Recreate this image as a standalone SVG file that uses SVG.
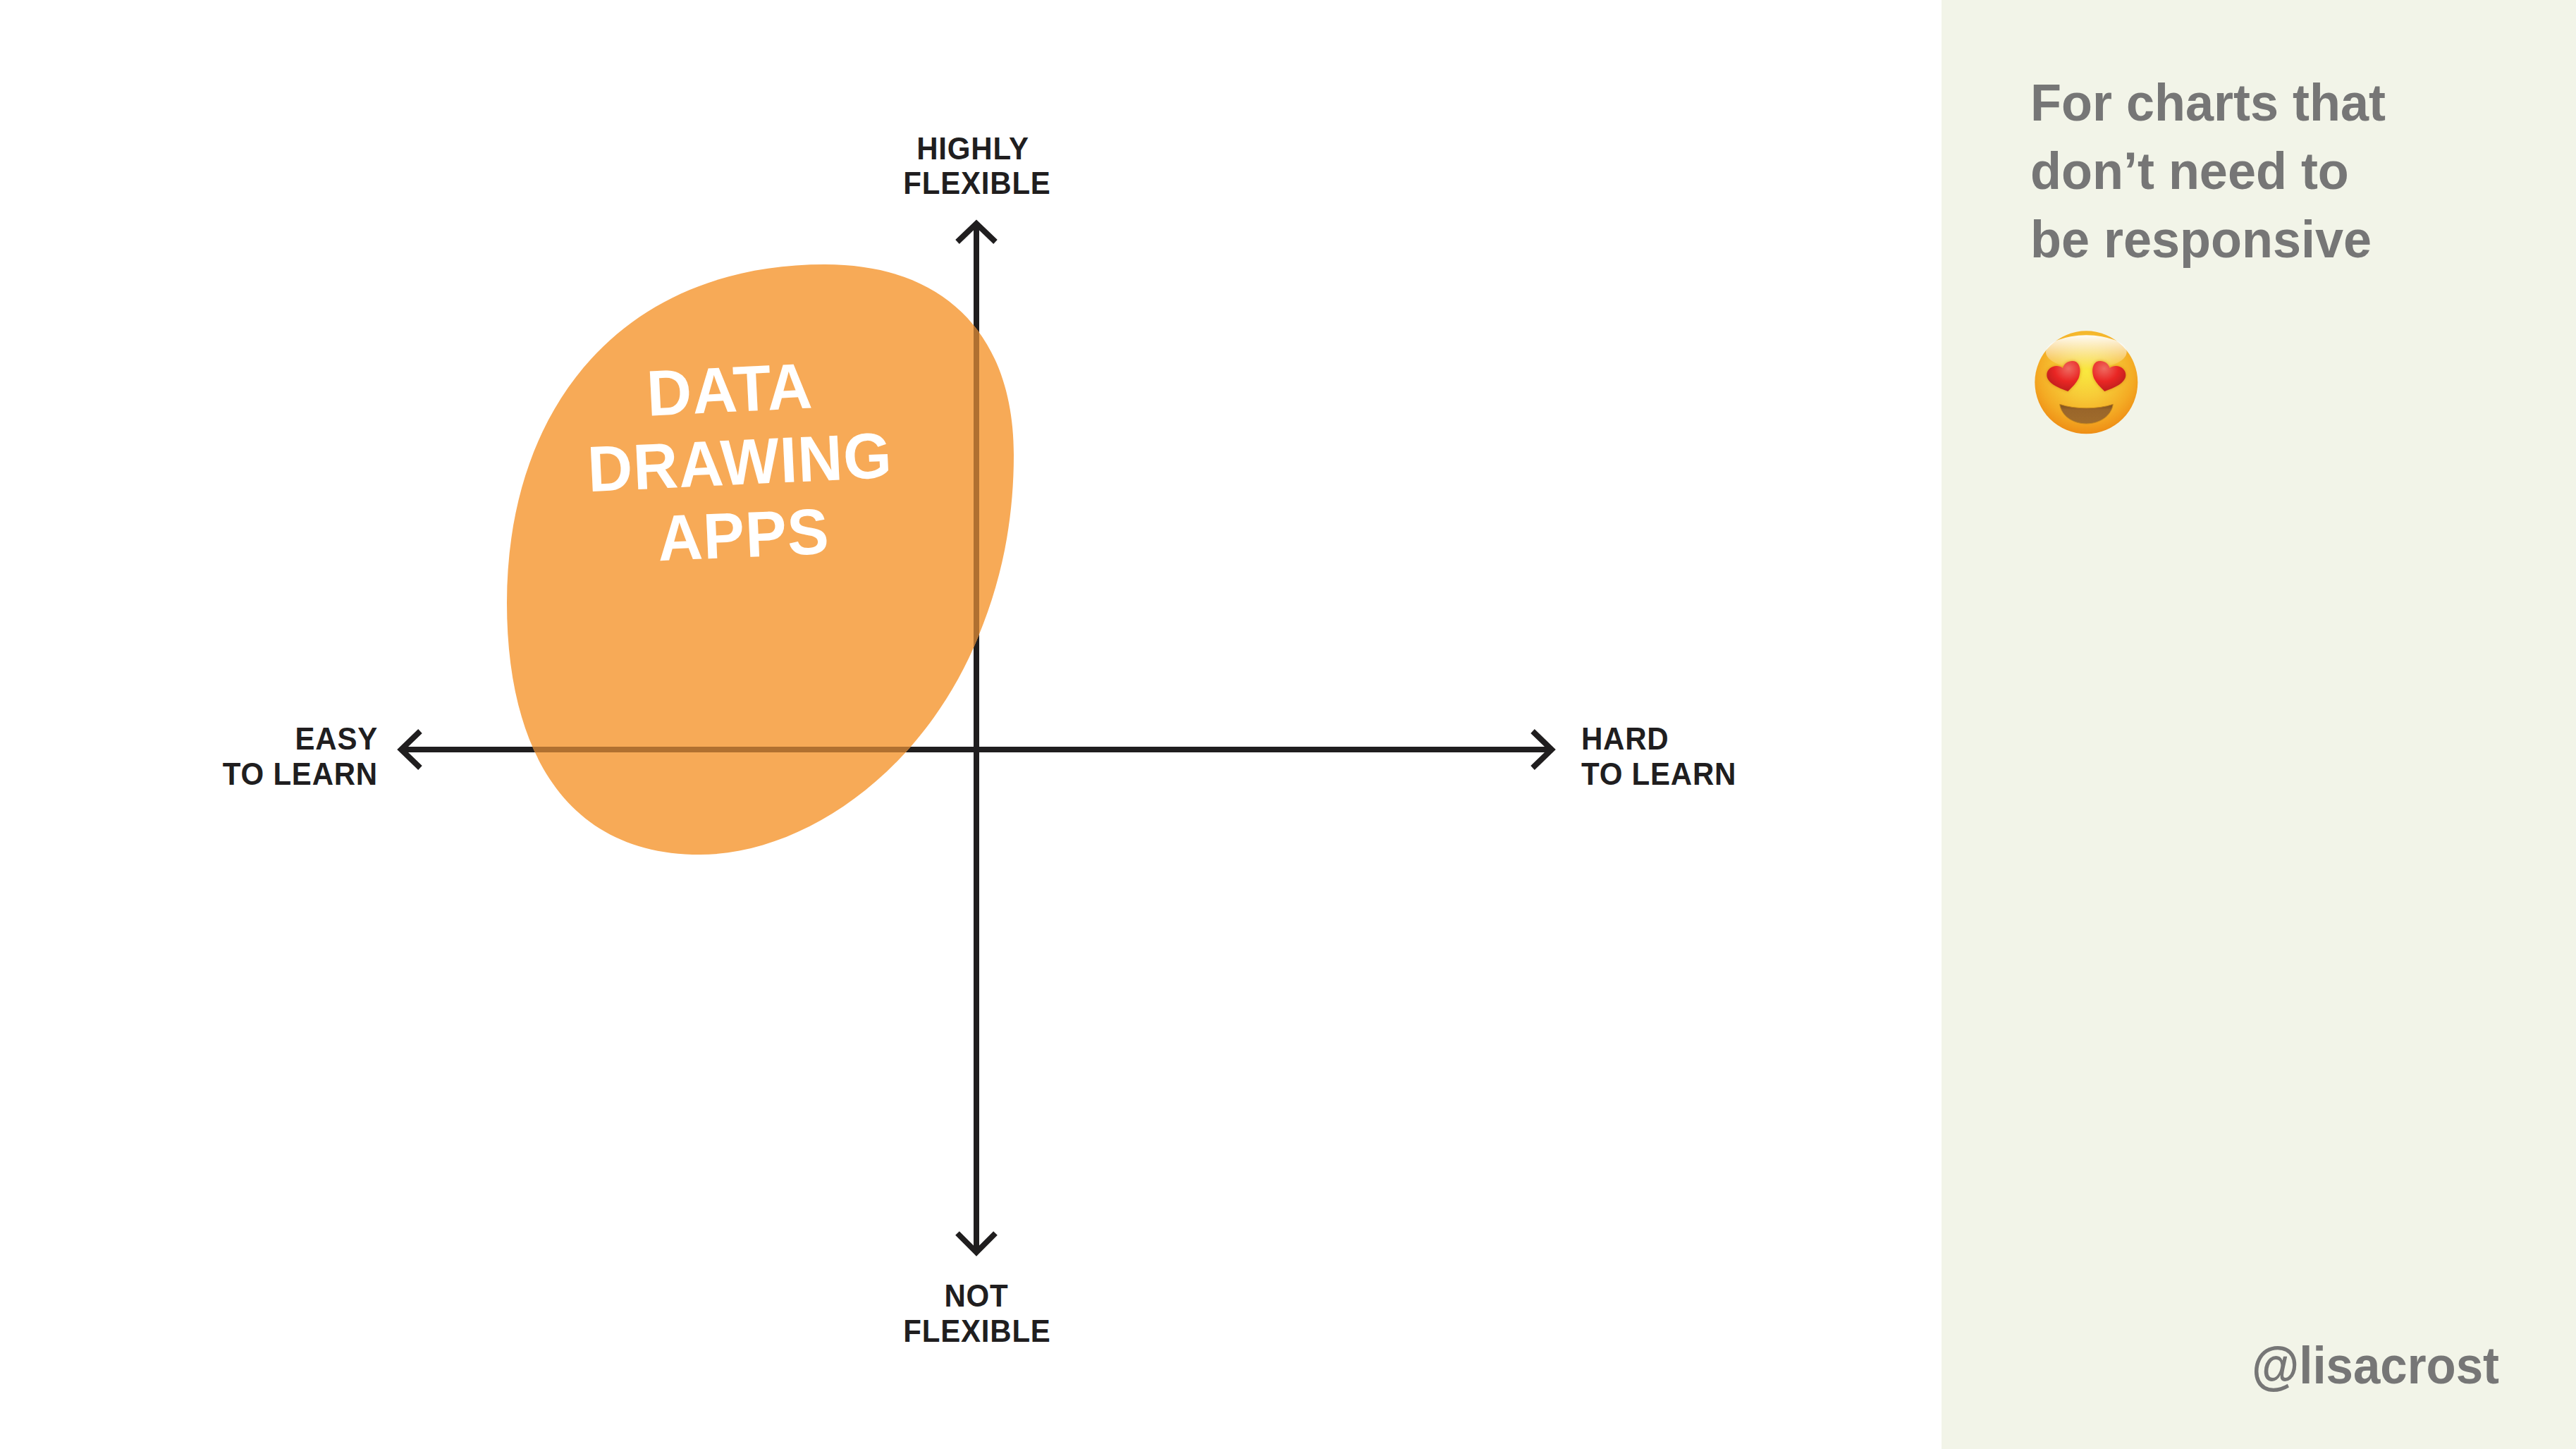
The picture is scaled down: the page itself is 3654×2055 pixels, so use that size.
<svg xmlns="http://www.w3.org/2000/svg" width="3654" height="2055" viewBox="0 0 3654 2055">
<style>
text{font-family:"Liberation Sans",Arial,sans-serif;font-weight:700}
.lab{font-size:42px;fill:#201e1f;letter-spacing:.8px}
.mid{text-anchor:middle}
.end{text-anchor:end}
.side{font-size:72px;fill:#767676}
.title{font-size:88px;fill:#fff;text-anchor:middle;letter-spacing:1px}
.ax{fill:none;stroke:#201e1f;stroke-width:8;stroke-miterlimit:10}
.over{fill:none;stroke:#b07030;stroke-width:8}
</style>
<defs>
<path id="blobshape" d="M1170 375C1345 375 1438 480 1438 645C1438 735 1422 820 1388 902C1310 1095 1140 1212 993 1212C800 1212 719 1060 719 855C719 575 885 375 1170 375Z"/>
<clipPath id="inblob"><use href="#blobshape"/></clipPath>
<radialGradient id="face" gradientUnits="userSpaceOnUse" cx="238" cy="200" r="270">
<stop offset="0" stop-color="#f9e93f"/><stop offset=".4" stop-color="#f7cb38"/><stop offset=".75" stop-color="#f4ab24"/><stop offset="1" stop-color="#ee8c14"/>
</radialGradient>
<linearGradient id="shine" x1="0" y1="0" x2="0" y2="1">
<stop offset="0" stop-color="#fff" stop-opacity=".95"/><stop offset="1" stop-color="#fff" stop-opacity="0"/>
</linearGradient>
<radialGradient id="heart" cx=".65" cy=".25" r=".85">
<stop offset="0" stop-color="#ef6a60"/><stop offset=".5" stop-color="#e92624"/><stop offset="1" stop-color="#b31c1b"/>
</radialGradient>
<linearGradient id="mouth" x1="0" y1="0" x2="0" y2="1">
<stop offset="0" stop-color="#7d4f1c"/><stop offset=".3" stop-color="#9a662a"/><stop offset="1" stop-color="#a06c2c"/>
</linearGradient>
<filter id="soft" x="-20%" y="-20%" width="140%" height="140%"><feGaussianBlur stdDeviation="7"/></filter>
<path id="h" d="M160 285C120 270 70 250 70 215C70 185 110 165 138 186C145 160 175 150 195 160C215 175 215 205 205 230C195 250 180 265 160 285Z"/>
</defs>
<rect width="3654" height="2055" fill="#fff"/>
<rect id="panel" x="2754" y="0" width="900" height="2055" fill="#f2f4e8"/>
<g id="connectors">
<path class="ax" d="M569 1063H2201M1385 316V1776"/>
<polyline class="ax" points="596,1037 569,1063 596,1089"/>
<polyline class="ax" points="2174,1037 2201,1063 2174,1089"/>
<polyline class="ax" points="1358,343 1385,317 1412,343"/>
<polyline class="ax" points="1358,1749 1385,1776 1412,1749"/>
</g>
<g id="blob">
<use href="#blobshape" fill="#f7aa57"/>
<path class="over" clip-path="url(#inblob)" d="M569 1063H2201M1385 316V1776"/>
<text class="title" transform="translate(1036.5 584) rotate(-2.8) scale(1 1.04)">DATA</text>
<text class="title" transform="translate(1051 687) rotate(-2.7) scale(1 1.04)">DRAWING</text>
<text class="title" transform="translate(1056 790) rotate(-2.5) scale(1 1.04)">APPS</text>
</g>
<g id="label-top"><text class="lab mid" transform="translate(1380 226) scale(1 1.04)">HIGHLY</text><text class="lab mid" transform="translate(1386 275) scale(1 1.04)">FLEXIBLE</text></g>
<g id="label-left"><text class="lab end" transform="translate(536 1063) scale(1 1.04)">EASY</text><text class="lab end" transform="translate(536 1113) scale(1 1.04)">TO LEARN</text></g>
<g id="label-right"><text class="lab" transform="translate(2243 1063) scale(1 1.04)">HARD</text><text class="lab" transform="translate(2243 1113) scale(1 1.04)">TO LEARN</text></g>
<g id="label-bottom"><text class="lab mid" transform="translate(1385 1853) scale(1 1.04)">NOT</text><text class="lab mid" transform="translate(1386 1903) scale(1 1.04)">FLEXIBLE</text></g>
<g id="side-note">
<text class="side" transform="translate(2880 171) scale(1 1.04)">For charts that</text>
<text class="side" transform="translate(2880 268) scale(1 1.04)">don’t need to</text>
<text class="side" transform="translate(2880 365) scale(1 1.04)">be responsive</text>
</g>
<g id="emoji" transform="translate(2880 460) scale(.3333)">
<circle cx="238" cy="247" r="219" fill="url(#face)"/>
<ellipse cx="238" cy="118" rx="172" ry="72" fill="url(#shine)"/>
<use href="#h" fill="#c8610f" opacity=".55" filter="url(#soft)"/>
<use href="#h" fill="#c8610f" opacity=".55" filter="url(#soft)" transform="matrix(-1 0 0 1 476 0)"/>
<use href="#h" fill="url(#heart)"/>
<use href="#h" fill="url(#heart)" transform="matrix(-1 0 0 1 476 0)"/>
<path d="M125 340C190 362 287 362 352 340C345 390 295 423 238 423C181 423 132 390 125 340Z" fill="url(#mouth)" stroke="#c98a1c" stroke-width="3"/>
</g>
<text id="handle" class="side" style="font-size:69px" text-anchor="end" transform="translate(3545 1962) scale(1 1.07)">@lisacrost</text>
</svg>
